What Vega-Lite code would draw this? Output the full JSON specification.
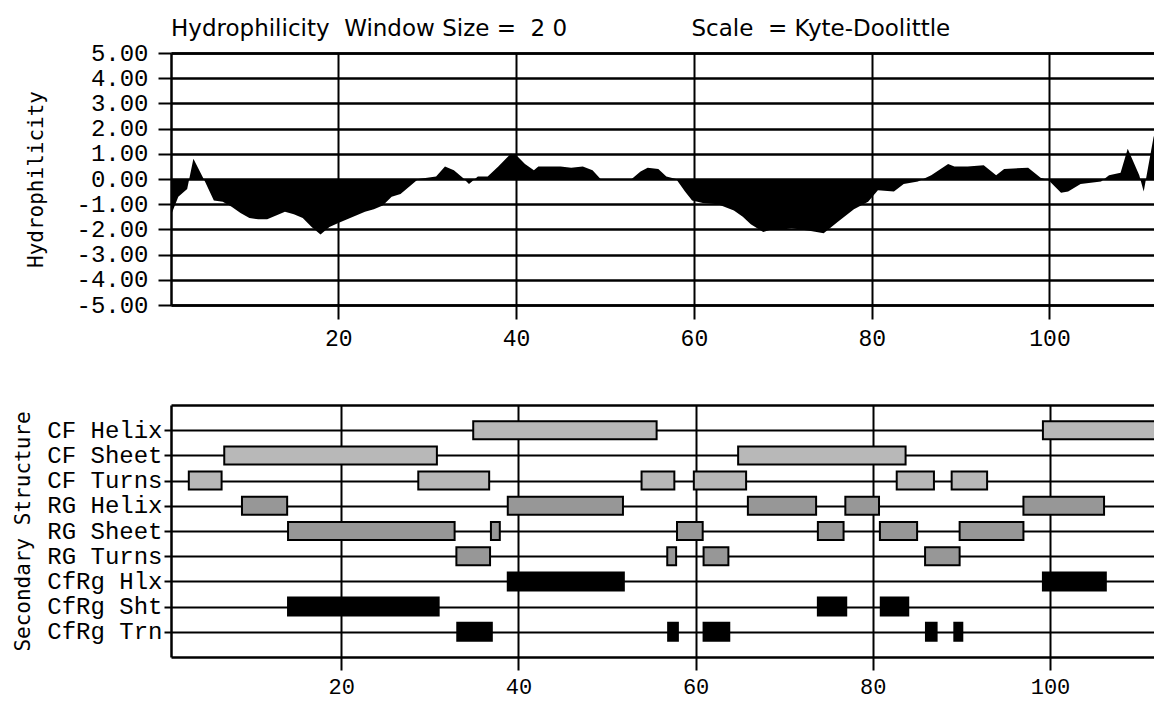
{
  "$schema": "https://vega.github.io/schema/vega-lite/v6.json",
  "padding": {"left": 12, "top": 18, "right": 0, "bottom": 0},
  "background": "white",
  "spacing": 55,
  "config": {
    "view": {"stroke": null},
    "axis": {"domainColor": "black", "tickColor": "black", "gridColor": "black", "labelColor": "black", "titleColor": "black", "titleFontWeight": "normal", "gridOpacity": 1, "domainWidth": 2.5, "tickWidth": 2, "gridWidth": 2}
  },
  "vconcat": [
    {
      "width": 984,
      "height": 252,
      "title": {"text": "Hydrophilicity\u00a0\u00a0Window Size =\u00a0\u00a02 0\u00a0\u00a0\u00a0\u00a0\u00a0\u00a0\u00a0\u00a0\u00a0\u00a0\u00a0\u00a0\u00a0\u00a0\u00a0\u00a0\u00a0Scale\u00a0\u00a0= Kyte-Doolittle", "anchor": "start", "frame": "group", "font": "DejaVu Sans", "fontSize": 23, "fontWeight": "normal", "color": "black", "baseline": "alphabetic", "offset": -18},
      "data": {"values": [
        {"pos": 1, "h": -1.6}, {"pos": 2, "h": -0.7}, {"pos": 3, "h": -0.4}, {"pos": 3.7, "h": 0.8}, {"pos": 5, "h": -0.1},
        {"pos": 6, "h": -0.85}, {"pos": 7, "h": -0.9}, {"pos": 8, "h": -1.1}, {"pos": 9, "h": -1.35}, {"pos": 10, "h": -1.55},
        {"pos": 11, "h": -1.6}, {"pos": 12, "h": -1.6}, {"pos": 13, "h": -1.45}, {"pos": 14, "h": -1.3}, {"pos": 15, "h": -1.4},
        {"pos": 16, "h": -1.55}, {"pos": 17, "h": -1.9}, {"pos": 18, "h": -2.2}, {"pos": 19, "h": -1.9}, {"pos": 20, "h": -1.75},
        {"pos": 21, "h": -1.6}, {"pos": 22, "h": -1.45}, {"pos": 23, "h": -1.3}, {"pos": 24, "h": -1.2}, {"pos": 25, "h": -1.05},
        {"pos": 26, "h": -0.7}, {"pos": 27, "h": -0.6}, {"pos": 28, "h": -0.3}, {"pos": 29, "h": 0.0}, {"pos": 30, "h": 0.05},
        {"pos": 31, "h": 0.1}, {"pos": 32, "h": 0.5}, {"pos": 33, "h": 0.35}, {"pos": 34, "h": 0.05}, {"pos": 34.7, "h": -0.2},
        {"pos": 35.7, "h": 0.1}, {"pos": 36.8, "h": 0.1}, {"pos": 38, "h": 0.5}, {"pos": 39.4, "h": 1.0}, {"pos": 40, "h": 0.95},
        {"pos": 41, "h": 0.6}, {"pos": 42, "h": 0.35}, {"pos": 42.5, "h": 0.5}, {"pos": 44, "h": 0.5}, {"pos": 45, "h": 0.5},
        {"pos": 46.2, "h": 0.45}, {"pos": 47.5, "h": 0.5}, {"pos": 48.6, "h": 0.35}, {"pos": 49.5, "h": 0.0}, {"pos": 51, "h": 0.0},
        {"pos": 53, "h": 0.0}, {"pos": 54, "h": 0.3}, {"pos": 54.8, "h": 0.45}, {"pos": 56, "h": 0.4}, {"pos": 56.9, "h": 0.1},
        {"pos": 58, "h": 0.0}, {"pos": 59, "h": -0.5}, {"pos": 59.8, "h": -0.85}, {"pos": 61, "h": -0.95}, {"pos": 62.7, "h": -1.0},
        {"pos": 64.5, "h": -1.25}, {"pos": 65.5, "h": -1.5}, {"pos": 66.4, "h": -1.8}, {"pos": 67.8, "h": -2.1}, {"pos": 68.7, "h": -2.0},
        {"pos": 70, "h": -2.0}, {"pos": 71, "h": -1.95}, {"pos": 72, "h": -2.0}, {"pos": 73, "h": -2.05}, {"pos": 74.6, "h": -2.15},
        {"pos": 76.2, "h": -1.7}, {"pos": 78, "h": -1.2}, {"pos": 79.6, "h": -0.9}, {"pos": 80.7, "h": -0.45}, {"pos": 82.5, "h": -0.5},
        {"pos": 83.6, "h": -0.2}, {"pos": 85.2, "h": -0.1}, {"pos": 86.7, "h": 0.15}, {"pos": 88.6, "h": 0.6}, {"pos": 89.3, "h": 0.5},
        {"pos": 90.8, "h": 0.5}, {"pos": 92.6, "h": 0.55}, {"pos": 94, "h": 0.15}, {"pos": 94.9, "h": 0.4}, {"pos": 97.6, "h": 0.45},
        {"pos": 99, "h": 0.05}, {"pos": 99.9, "h": -0.05}, {"pos": 101.3, "h": -0.55}, {"pos": 102.1, "h": -0.5}, {"pos": 103.5, "h": -0.2},
        {"pos": 105.8, "h": -0.1}, {"pos": 106.7, "h": 0.15}, {"pos": 108, "h": 0.25}, {"pos": 108.8, "h": 1.2}, {"pos": 110.1, "h": 0.15},
        {"pos": 110.6, "h": -0.5}, {"pos": 111.7, "h": 1.65}, {"pos": 112, "h": 2.0}
      ]},
      "layer": [
        {
          "mark": {"type": "area", "color": "black", "clip": true},
          "encoding": {
            "x": {"field": "pos", "type": "quantitative", "scale": {"domain": [1.18, 111.87], "nice": false, "zero": false},
              "axis": {"orient": "bottom", "values": [20, 40, 60, 80, 100], "title": null, "tickSize": 14, "labelPadding": 8, "labelFont": "Liberation Mono", "labelFontSize": 23, "grid": true}},
            "y": {"field": "h", "type": "quantitative", "scale": {"domain": [-5, 5], "nice": false, "zero": false},
              "axis": {"values": [-5, -4, -3, -2, -1, 0, 1, 2, 3, 4, 5], "labelExpr": "replace(format(datum.value,'.2f'),'\u2212','-')", "title": "Hydrophilicity", "titleFont": "DejaVu Sans Mono", "titleFontSize": 21, "titleX": -135, "titleY": 126, "titleBaseline": "middle", "tickSize": 13, "labelPadding": 10, "labelFont": "Liberation Mono", "labelFontSize": 24, "grid": true, "gridWidth": 2.5}},
            "y2": {"datum": 0}
          }
        },
        {
          "mark": {"type": "point", "opacity": 0, "clip": true},
          "encoding": {
            "x": {"field": "pos", "type": "quantitative", "axis": {"orient": "top", "labels": false, "ticks": false, "grid": false, "title": null, "minExtent": 0, "maxExtent": 0}}
          }
        }
      ]
    },
    {
      "width": 984,
      "height": 252,
      "data": {"values": [
        {"row": "CF Helix", "kind": "CF", "start": 34.9, "end": 55.6},
        {"row": "CF Helix", "kind": "CF", "start": 99.2, "end": 113},
        {"row": "CF Sheet", "kind": "CF", "start": 6.8, "end": 30.8},
        {"row": "CF Sheet", "kind": "CF", "start": 64.8, "end": 83.7},
        {"row": "CF Turns", "kind": "CF", "start": 2.8, "end": 6.5},
        {"row": "CF Turns", "kind": "CF", "start": 28.7, "end": 36.7},
        {"row": "CF Turns", "kind": "CF", "start": 53.9, "end": 57.6},
        {"row": "CF Turns", "kind": "CF", "start": 59.8, "end": 65.7},
        {"row": "CF Turns", "kind": "CF", "start": 82.7, "end": 86.9},
        {"row": "CF Turns", "kind": "CF", "start": 88.9, "end": 92.9},
        {"row": "RG Helix", "kind": "RG", "start": 8.8, "end": 13.9},
        {"row": "RG Helix", "kind": "RG", "start": 38.8, "end": 51.8},
        {"row": "RG Helix", "kind": "RG", "start": 65.9, "end": 73.6},
        {"row": "RG Helix", "kind": "RG", "start": 76.9, "end": 80.7},
        {"row": "RG Helix", "kind": "RG", "start": 97.0, "end": 106.1},
        {"row": "RG Sheet", "kind": "RG", "start": 14.0, "end": 32.8},
        {"row": "RG Sheet", "kind": "RG", "start": 36.9, "end": 37.9},
        {"row": "RG Sheet", "kind": "RG", "start": 57.9, "end": 60.8},
        {"row": "RG Sheet", "kind": "RG", "start": 73.8, "end": 76.7},
        {"row": "RG Sheet", "kind": "RG", "start": 80.8, "end": 85.0},
        {"row": "RG Sheet", "kind": "RG", "start": 89.8, "end": 97.0},
        {"row": "RG Turns", "kind": "RG", "start": 33.0, "end": 36.8},
        {"row": "RG Turns", "kind": "RG", "start": 56.8, "end": 57.8},
        {"row": "RG Turns", "kind": "RG", "start": 60.9, "end": 63.7},
        {"row": "RG Turns", "kind": "RG", "start": 85.9, "end": 89.8},
        {"row": "CfRg Hlx", "kind": "CfRg", "start": 38.8, "end": 51.9},
        {"row": "CfRg Hlx", "kind": "CfRg", "start": 99.2, "end": 106.3},
        {"row": "CfRg Sht", "kind": "CfRg", "start": 14.0, "end": 31.0},
        {"row": "CfRg Sht", "kind": "CfRg", "start": 73.8, "end": 77.0},
        {"row": "CfRg Sht", "kind": "CfRg", "start": 80.9, "end": 84.0},
        {"row": "CfRg Trn", "kind": "CfRg", "start": 33.1, "end": 37.0},
        {"row": "CfRg Trn", "kind": "CfRg", "start": 56.9, "end": 58.0},
        {"row": "CfRg Trn", "kind": "CfRg", "start": 60.9, "end": 63.8},
        {"row": "CfRg Trn", "kind": "CfRg", "start": 86.0, "end": 87.2},
        {"row": "CfRg Trn", "kind": "CfRg", "start": 89.2, "end": 90.1}
      ]},
      "layer": [
        {
          "mark": {"type": "bar", "height": 18, "stroke": "black", "strokeWidth": 2, "clip": true},
          "encoding": {
            "x": {"field": "start", "type": "quantitative", "scale": {"domain": [0.79, 111.85], "nice": false, "zero": false},
              "axis": {"orient": "bottom", "values": [20, 40, 60, 80, 100], "title": null, "tickSize": 13, "labelPadding": 6, "labelFont": "Liberation Mono", "labelFontSize": 22, "grid": true}},
            "x2": {"field": "end"},
            "y": {"field": "row", "type": "nominal", "sort": null,
              "scale": {"type": "point", "padding": 1, "domain": ["CF Helix", "CF Sheet", "CF Turns", "RG Helix", "RG Sheet", "RG Turns", "CfRg Hlx", "CfRg Sht", "CfRg Trn"]},
              "axis": {"title": "Secondary Structure", "titleFont": "DejaVu Sans Mono", "titleFontSize": 21, "titleX": -148, "titleY": 126, "titleBaseline": "middle", "tickSize": 7, "labelPadding": 2, "labelFont": "Liberation Mono", "labelFontSize": 24, "grid": true}},
            "fill": {"field": "kind", "type": "nominal", "scale": {"domain": ["CF", "RG", "CfRg"], "range": ["#b8b8b8", "#979797", "#000000"]}, "legend": null}
          }
        },
        {
          "mark": {"type": "point", "opacity": 0, "clip": true},
          "encoding": {
            "x": {"field": "start", "type": "quantitative", "axis": {"orient": "top", "labels": false, "ticks": false, "grid": false, "title": null, "minExtent": 0, "maxExtent": 0}}
          }
        }
      ]
    }
  ]
}
